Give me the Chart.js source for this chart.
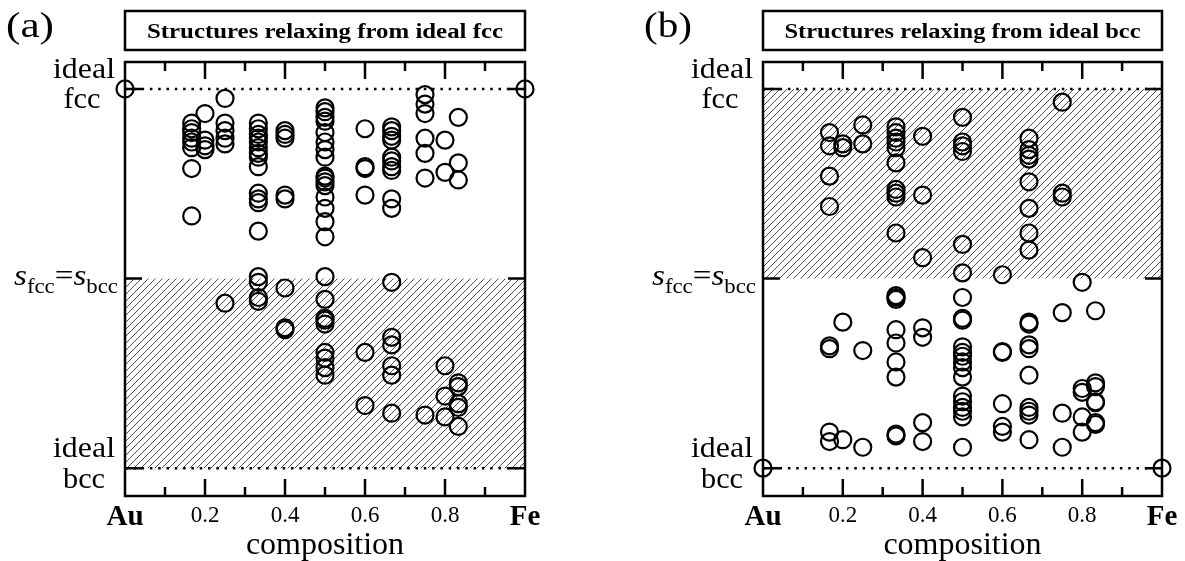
<!DOCTYPE html>
<html>
<head>
<meta charset="utf-8">
<script src="https://cdn.jsdelivr.net/npm/chart.js@4.4.0/dist/chart.umd.min.js"></script>
<style>
  html, body { margin: 0; padding: 0; background: #fff; }
  body { width: 1185px; height: 561px; position: relative; overflow: hidden; }
  canvas { position: absolute; top: 0; }
</style>
</head>
<body>
<canvas id="chartA" width="547" height="561" style="left:0px"></canvas>
<canvas id="chartB" width="547" height="561" style="left:638px"></canvas>
<script>
// compositions (Fe fraction) that have relaxed structures
const compositions = [1/6, 0.2, 0.25, 1/3, 0.4, 0.5, 0.6, 2/3, 0.75, 0.8, 5/6];

// s = +1 ideal fcc, 0 -> s_fcc = s_bcc, -1 ideal bcc; one list per composition
const sFromFcc = [
  [0.82, 0.79, 0.77, 0.74, 0.72, 0.69, 0.58, 0.33],
  [0.87, 0.73, 0.70, 0.68],
  [0.95, 0.82, 0.78, 0.74, 0.71, -0.13],
  [0.82, 0.79, 0.76, 0.74, 0.72, 0.69, 0.66, 0.64, 0.59, 0.45, 0.42, 0.40, 0.25, 0.01, -0.02, -0.10, -0.12],
  [0.78, 0.76, 0.74, 0.44, 0.42, -0.05, -0.26, -0.27],
  [0.90, 0.88, 0.85, 0.83, 0.77, 0.72, 0.68, 0.64, 0.54, 0.53, 0.51, 0.49, 0.43, 0.37, 0.30, 0.22, 0.01, -0.11, -0.21, -0.22, -0.24, -0.39, -0.42, -0.47, -0.51],
  [0.79, 0.59, 0.58, 0.44, -0.39, -0.67],
  [0.80, 0.78, 0.75, 0.73, 0.64, 0.62, 0.59, 0.57, 0.42, 0.37, -0.02, -0.31, -0.35, -0.46, -0.51, -0.71],
  [0.97, 0.92, 0.87, 0.74, 0.66, 0.53, -0.72],
  [0.73, 0.56, -0.46, -0.62, -0.73],
  [0.85, 0.61, 0.52, -0.55, -0.57, -0.66, -0.68, -0.78]
];

const sFromBcc = [
  [0.77, 0.70, 0.54, 0.38, -0.355, -0.37, -0.81, -0.86],
  [0.71, 0.69, -0.23, -0.85],
  [0.81, 0.71, -0.38, -0.89],
  [0.80, 0.77, 0.74, 0.72, 0.69, 0.61, 0.47, 0.45, 0.43, 0.24, -0.09, -0.10, -0.11, -0.27, -0.34, -0.44, -0.52, -0.82, -0.83],
  [0.75, 0.44, 0.11, -0.26, -0.31, -0.76, -0.86],
  [0.85, 0.72, 0.70, 0.67, 0.18, 0.03, -0.10, -0.21, -0.22, -0.36, -0.39, -0.41, -0.44, -0.47, -0.52, -0.62, -0.65, -0.68, -0.70, -0.73, -0.89],
  [0.02, -0.385, -0.39, -0.66, -0.78, -0.81],
  [0.74, 0.68, 0.65, 0.63, 0.51, 0.37, 0.24, 0.15, -0.23, -0.24, -0.35, -0.37, -0.51, -0.68, -0.70, -0.72, -0.85],
  [0.93, 0.45, 0.43, -0.18, -0.71, -0.89],
  [-0.02, -0.58, -0.60, -0.73, -0.81],
  [-0.17, -0.55, -0.57, -0.65, -0.655, -0.76, -0.77]
];

const xTickValues = [0, 0.1, 0.2, 0.3, 0.4, 0.5, 0.6, 0.7, 0.8, 0.9, 1];
const xTickLabels = ['Au', '', '0.2', '', '0.4', '', '0.6', '', '0.8', '', 'Fe'];
const yLevels = [-1, 0, 1];   // ideal bcc, s_fcc = s_bcc, ideal fcc

const SERIF = "'Liberation Serif', 'Times New Roman', Times, serif";

function hatchPattern() {
  const c = document.createElement('canvas');
  c.width = 7; c.height = 7;
  const g = c.getContext('2d');
  g.strokeStyle = '#3a3a3a';
  g.lineWidth = 0.9;
  g.beginPath();
  g.moveTo(-1, 8); g.lineTo(8, -1);
  g.moveTo(-1, 1); g.lineTo(1, -1);
  g.moveTo(6, 8); g.lineTo(8, 6);
  g.stroke();
  return g.createPattern(c, 'repeat');
}

// draw text squeezed / stretched to a given width
function fitText(ctx, text, x, y, font, width, align) {
  ctx.font = font;
  const w = ctx.measureText(text).width;
  const sx = width ? width / w : 1;
  ctx.save();
  ctx.translate(x, y);
  ctx.scale(sx, 1);
  ctx.textAlign = align || 'left';
  ctx.textBaseline = 'alphabetic';
  ctx.fillText(text, 0, 0);
  ctx.restore();
}

const framePlugin = {
  id: 'frame',
  afterDatasetsDraw(chart) {
    const {ctx, chartArea: a, scales: {x, y}} = chart;
    ctx.save();
    ctx.strokeStyle = '#000';
    ctx.lineWidth = 2.5;
    ctx.strokeRect(a.left, a.top, a.right - a.left, a.bottom - a.top);
    ctx.beginPath();
    xTickValues.forEach((v, i) => {
      if (i === 0 || i === xTickValues.length - 1) return;
      const px = x.getPixelForValue(v);
      const len = i % 2 === 0 ? 17 : 9;
      ctx.moveTo(px, a.bottom); ctx.lineTo(px, a.bottom - len);
      ctx.moveTo(px, a.top); ctx.lineTo(px, a.top + len);
    });
    yLevels.forEach(v => {
      const py = y.getPixelForValue(v);
      ctx.moveTo(a.left, py); ctx.lineTo(a.left + 17, py);
      ctx.moveTo(a.right, py); ctx.lineTo(a.right - 17, py);
    });
    ctx.stroke();
    ctx.restore();
  }
};

const labelPlugin = {
  id: 'labels',
  afterDraw(chart, args, opts) {
    const {ctx, chartArea: a, scales: {y}} = chart;
    ctx.save();
    ctx.fillStyle = '#000';
    // panel letter
    fitText(ctx, opts.letter, 6, 37, '36px ' + SERIF, 48);
    // title box
    ctx.lineWidth = 2.5;
    ctx.strokeStyle = '#000';
    ctx.strokeRect(a.left, 11, a.right - a.left, 39);
    fitText(ctx, opts.title, (a.left + a.right) / 2, 38, 'bold 20px ' + SERIF, 356, 'center');
    // y labels
    const yF = y.getPixelForValue(1), yM = y.getPixelForValue(0), yB = y.getPixelForValue(-1);
    fitText(ctx, 'ideal', 84, yF - 11, '29px ' + SERIF, 62, 'center');
    fitText(ctx, 'fcc', 82, yF + 19, '29px ' + SERIF, 37, 'center');
    fitText(ctx, 'ideal', 84, yB - 11, '29px ' + SERIF, 62, 'center');
    fitText(ctx, 'bcc', 84, yB + 20, '29px ' + SERIF, 42, 'center');
    // s_fcc = s_bcc
    const parts = [
      ['s', 'italic 29px ' + SERIF, 0],
      ['fcc', '20px ' + SERIF, 8],
      ['=', '29px ' + SERIF, 0],
      ['s', 'italic 29px ' + SERIF, 0],
      ['bcc', '20px ' + SERIF, 8]
    ];
    let total = 0;
    parts.forEach(p => { ctx.font = p[1]; total += ctx.measureText(p[0]).width; });
    const sx = 104 / total;
    ctx.save();
    ctx.translate(118 - 104, yM + 6);
    ctx.scale(sx, 1);
    let cx = 0;
    parts.forEach(p => {
      ctx.font = p[1];
      ctx.fillText(p[0], cx, p[2]);
      cx += ctx.measureText(p[0]).width;
    });
    ctx.restore();
    ctx.restore();
  }
};

function makePanel(id, values, opts) {
  const points = [];
  compositions.forEach((c, i) => values[i].forEach(s => points.push({x: c, y: s})));
  const ideal = [{x: 0, y: opts.ideal}, {x: 1, y: opts.ideal}];
  const dotted = {
    type: 'line', borderColor: '#000', borderWidth: 2.5, borderDash: [2.5, 5.8],
    borderCapStyle: 'butt', pointRadius: 0, fill: false, order: 2
  };
  return new Chart(document.getElementById(id), {
    type: 'scatter',
    data: {
      datasets: [
        {
          type: 'line', data: [{x: 0, y: opts.hatch[1]}, {x: 1, y: opts.hatch[1]}],
          fill: {value: opts.hatch[0]}, backgroundColor: hatchPattern(),
          borderWidth: 0, pointRadius: 0, order: 3
        },
        Object.assign({data: [{x: 0, y: 1}, {x: 1, y: 1}]}, dotted),
        Object.assign({data: [{x: 0, y: -1}, {x: 1, y: -1}]}, dotted),
        {
          data: ideal, clip: false, pointRadius: 8.5, borderWidth: 2.2,
          borderColor: '#000', backgroundColor: 'rgba(0,0,0,0)', order: 1
        },
        {
          data: points, pointRadius: 8.5, borderWidth: 2.2,
          borderColor: '#000', backgroundColor: 'rgba(0,0,0,0)', order: 0
        }
      ]
    },
    options: {
      responsive: false,
      animation: false,
      layout: {padding: {left: 0, top: 62, right: opts.rightPad, bottom: 0}},
      plugins: {
        legend: {display: false},
        tooltip: {enabled: false},
        labels: {letter: opts.letter, title: opts.title}
      },
      scales: {
        x: {
          type: 'linear', min: 0, max: 1,
          afterBuildTicks: s => { s.ticks = xTickValues.map(v => ({value: v})); },
          afterFit: s => { s.height = 65; },
          grid: {display: false, drawTicks: false},
          border: {display: false},
          ticks: {
            autoSkip: false, maxRotation: 0, minRotation: 0, padding: 4, color: '#000',
            callback: (v, i) => xTickLabels[i],
            font: c => (c.index === 0 || c.index === xTickValues.length - 1)
              ? {family: SERIF, size: 29, weight: 'bold', lineHeight: 1.2}
              : {family: SERIF, size: 23, weight: 'normal', lineHeight: 1.4}
          },
          title: {
            display: true, text: 'composition', color: '#000',
            font: {family: SERIF, size: 32, lineHeight: 0.95}, padding: {top: 0, bottom: 0}
          }
        },
        y: {
          min: -1.147, max: 1.142,
          afterFit: s => { s.width = 125; },
          ticks: {display: false},
          grid: {display: false, drawTicks: false},
          border: {display: false}
        }
      }
    },
    plugins: [framePlugin, labelPlugin]
  });
}

makePanel('chartA', sFromFcc, {
  letter: '(a)', title: 'Structures relaxing from ideal fcc',
  hatch: [-1, 0], ideal: 1, rightPad: 22
});
makePanel('chartB', sFromBcc, {
  letter: '(b)', title: 'Structures relaxing from ideal bcc',
  hatch: [0, 1], ideal: -1, rightPad: 23
});
</script>
</body>
</html>
